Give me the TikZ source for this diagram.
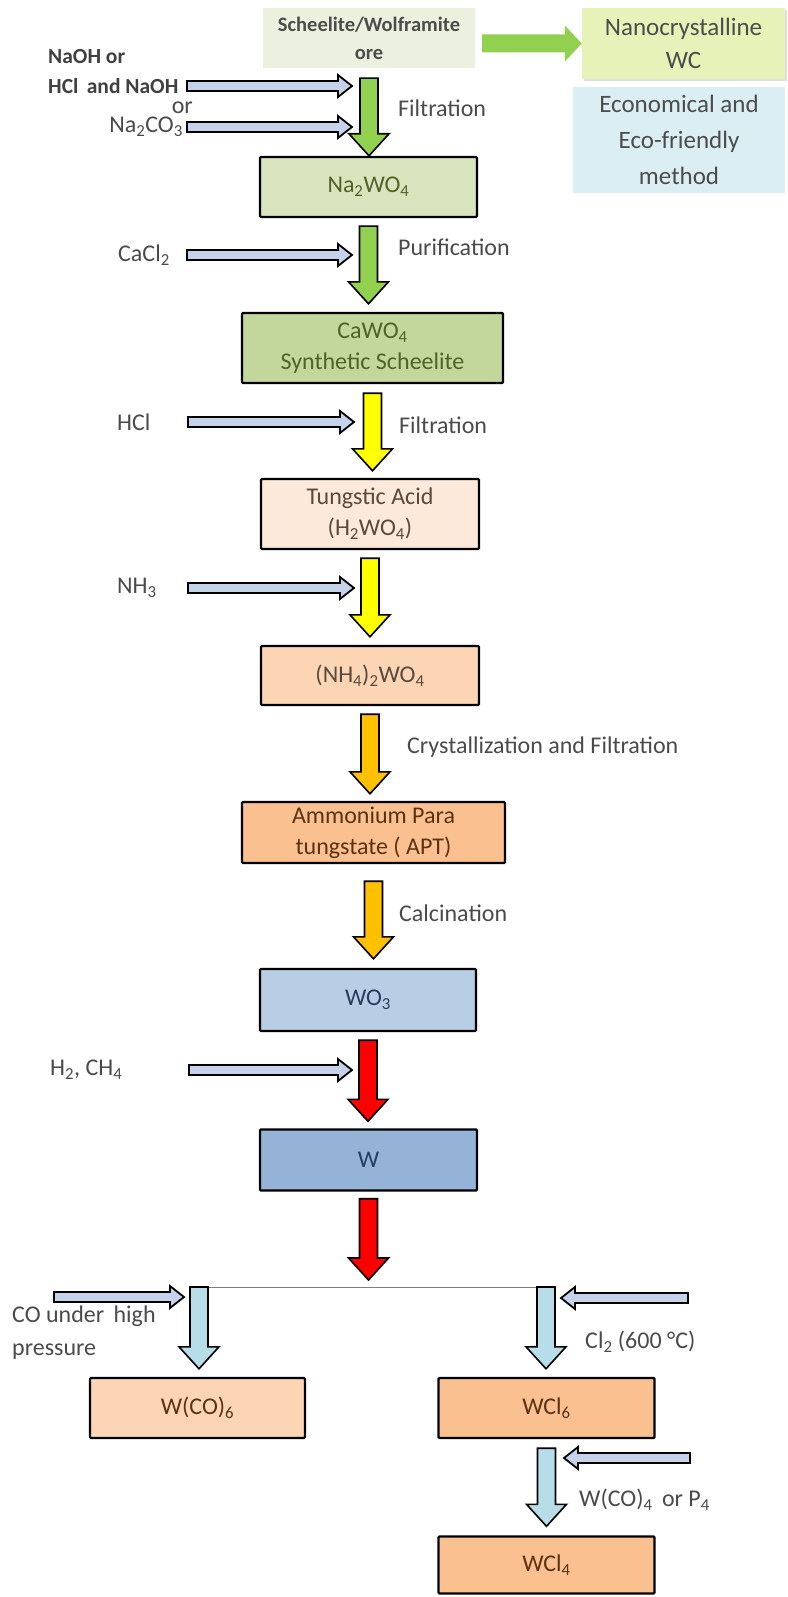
\documentclass[tikz,border=0pt]{standalone}
\usepackage{fontspec}
\setmainfont{Carlito}
\usepackage{xcolor}
\usepackage{tikz}
\usetikzlibrary{positioning,calc,shadows}

\definecolor{oreC}{HTML}{EBF1DE}
\definecolor{nanoC}{HTML}{E6F2B8}
\definecolor{ecoC}{HTML}{DBEEF3}
\definecolor{naC}{HTML}{D7E4BD}
\definecolor{caC}{HTML}{C3D69B}
\definecolor{taC}{HTML}{FDE9D9}
\definecolor{amC}{HTML}{FCD5B5}
\definecolor{aptC}{HTML}{FAC090}
\definecolor{wthreeC}{HTML}{B9CDE5}
\definecolor{wC}{HTML}{95B3D7}
\definecolor{grnA}{HTML}{92D050}
\definecolor{yelA}{HTML}{FFFF00}
\definecolor{ornA}{HTML}{FFC000}
\definecolor{redA}{HTML}{FF0000}
\definecolor{bluA}{HTML}{B7DDE8}
\definecolor{feedC}{HTML}{C6D2EA}
\definecolor{lblT}{HTML}{4A4A4A}
\definecolor{grnT}{HTML}{4F6228}
\definecolor{brnT}{HTML}{594A3C}
\definecolor{aptT}{HTML}{5B3312}
\definecolor{bluT}{HTML}{243F60}

\tikzset{
  box/.style={draw=black, line width=2.4pt, rounded corners=1pt, align=center,
    minimum height=60pt, inner sep=2pt, font=\fontsize{24}{31}\selectfont},
  topbox/.style={draw=none, align=center, inner sep=2pt},
  lbl/.style={inner sep=0pt, text=lblT, align=left, font=\fontsize{24}{33}\selectfont},
  % block arrow pointing down
  blk/.style={fill=#1, draw=black, line width=1.6pt, line join=miter,
    to path={let \p1=(\tikztostart), \p2=(\tikztotarget) in
      (\x1-9pt,\y1) -- (\x1+9pt,\y1) -- (\x1+9pt,\y2+22pt) -- (\x1+20pt,\y2+22pt)
      -- (\x1,\y2) -- (\x1-20pt,\y2+22pt) -- (\x1-9pt,\y2+22pt) -- cycle}},
  % block arrow pointing right, no outline
  hblk/.style={fill=#1,
    to path={let \p1=(\tikztostart), \p2=(\tikztotarget) in
      (\x1,\y2+9pt) -- (\x2-17pt,\y2+9pt) -- (\x2-17pt,\y2+18pt) -- (\x2,\y2)
      -- (\x2-17pt,\y2-18pt) -- (\x2-17pt,\y2-9pt) -- (\x1,\y2-9pt) -- cycle}},
  % hollow feed arrow
  feed/.style={fill=feedC, draw=black, line width=1.8pt, line join=miter,
    to path={let \p1=(\tikztostart), \p2=(\tikztotarget), \p3=($(\p2)!14pt!(\p1)$) in
      (\x1,\y1+5pt) -- (\x3,\y1+5pt) -- (\x3,\y1+11pt) -- (\x2,\y1)
      -- (\x3,\y1-11pt) -- (\x3,\y1-5pt) -- (\x1,\y1-5pt) -- cycle}}
}

\begin{document}
\begin{tikzpicture}[x=1pt,y=-1pt]
    \useasboundingbox (0,0) rectangle (787,1597);

    % Top boxes
    \node[topbox, fill=oreC, text=black!70, font=\bfseries\fontsize{20.5}{28}\selectfont,
      minimum width=212pt, minimum height=60pt] (ore) at (369,38) {Scheelite/Wolframite\\ore};
    \node[topbox, fill=nanoC, text=black!70, font=\fontsize{25}{33}\selectfont,
      minimum width=203pt, minimum height=71pt,
      drop shadow={shadow xshift=2pt, shadow yshift=-2pt, opacity=0.25}] (nano) at (683.5,43.5) {Nanocrystalline\\WC};
    \node[topbox, fill=ecoC, text=black!70, font=\fontsize{25}{36}\selectfont,
      minimum width=212pt, minimum height=106pt] (eco) at (679,140) {Economical and\\Eco-friendly\\method};

    % Main column
    \node[box, fill=naC, text=grnT, minimum width=217pt] (na) at (368.5,187) {Na\textsubscript{2}WO\textsubscript{4}};
    \node[box, fill=caC, text=grnT, minimum width=261pt, minimum height=70pt] (ca) at (372.5,348) {CaWO\textsubscript{4}\\Synthetic Scheelite};
    \node[box, fill=taC, text=brnT, minimum width=218pt, minimum height=70pt] (ta) at (370,514) {Tungstic Acid\\(H\textsubscript{2}WO\textsubscript{4})};
    \node[box, fill=amC, text=brnT, minimum width=218pt, minimum height=59pt] (am) at (370,675.5) {(NH\textsubscript{4})\textsubscript{2}WO\textsubscript{4}};
    \node[box, fill=aptC, text=aptT, minimum width=263pt, minimum height=61pt] (apt) at (373.5,832.5) {Ammonium Para\\tungstate ( APT)};
    \node[box, fill=wthreeC, text=bluT, minimum width=216pt, minimum height=62pt] (wo) at (368,1000) {WO\textsubscript{3}};
    \node[box, fill=wC, text=bluT, minimum width=217pt, minimum height=61pt] (w) at (368.5,1160) {W};

    % Branch boxes
    \node[box, fill=amC, text=aptT, minimum width=215pt] (wco) at (197.5,1408) {W(CO)\textsubscript{6}};
    \node[box, fill=aptC, text=aptT, minimum width=216pt] (wcl) at (546.5,1408) {WCl\textsubscript{6}};
    \node[box, fill=aptC, text=aptT, minimum width=216pt, minimum height=57pt] (wclf) at (546.5,1565) {WCl\textsubscript{4}};

    % Step labels
    \node[lbl, anchor=west] (filt) at (398,108) {Filtration};
    \node[lbl, anchor=west] (puri) at (398,247) {Purification};
    \node[lbl, anchor=west] (filtb) at (399,425) {Filtration};
    \node[lbl, anchor=west] (cryst) at (407,747) {Crystallization and Filtration};
    \node[lbl, anchor=west] (calc) at (399,913) {Calcination};
    \node[lbl, anchor=west] (chl) at (585,1342) {Cl\textsubscript{2} (600 °C)};
    \node[lbl, anchor=west] (wcop) at (579,1500) {W(CO)\textsubscript{4}\, or P\textsubscript{4}};
    \node[lbl, anchor=north west] (co) at (12,1306) {CO under\, high\\pressure};

    % Reagents
    \node[lbl, anchor=west, text=black!75, font=\bfseries\fontsize{21.5}{28}\selectfont] (naoh) at (48,57) {NaOH or};
    \node[lbl, anchor=west, text=black!75, font=\bfseries\fontsize{21.5}{28}\selectfont] (hcl) at (48,86) {HCl\, and NaOH};
    \node[lbl, anchor=east] (or) at (193,108) {or};
    \node[lbl, anchor=east] (naco) at (183,127) {Na\textsubscript{2}CO\textsubscript{3}};
    \node[lbl, anchor=west] (cacl) at (118,255) {CaCl\textsubscript{2}};
    \node[lbl, anchor=west] (hclb) at (117,422) {HCl};
    \node[lbl, anchor=west] (nh) at (117,588) {NH\textsubscript{3}};
    \node[lbl, anchor=west] (hyd) at (50,1070) {H\textsubscript{2}, CH\textsubscript{4}};

    % Junctions
    \coordinate (ja) at (352,88);
    \coordinate (jb) at (352,127);
    \coordinate (jc) at (352,255);
    \coordinate (jd) at (354,422);
    \coordinate (je) at (354,588);
    \coordinate (jf) at (352,1070);
    \coordinate (split) at (368.5,1280);
    \coordinate (bl) at (199,1287);
    \coordinate (br) at (546,1287);
    \coordinate (coa) at (54,1297);
    \coordinate (cob) at (184,1297);
    \coordinate (cla) at (688,1298);
    \coordinate (clb) at (561,1298);
    \coordinate (pa) at (690,1458);
    \coordinate (pb) at (564,1458);

    % Process arrows
    \path[hblk=grnA] ([xshift=7pt]ore.east) to (nano.west);
    \draw[blk=grnA] ([yshift=-10pt]ore.south) to (na.north);
    \draw[blk=grnA] ([yshift=-8pt]na.south) to ([yshift=8pt]ca.north);
    \draw[blk=yelA] ([yshift=-9pt]ca.south) to ([yshift=7pt]ta.north);
    \draw[blk=yelA] ([yshift=-8pt]ta.south) to ([yshift=8pt]am.north);
    \draw[blk=ornA] ([yshift=-8pt]am.south) to ([yshift=7pt]apt.north);
    \draw[blk=ornA] ([yshift=-17pt]apt.south) to ([yshift=9pt]wo.north);
    \draw[blk=redA] ([yshift=-8pt]wo.south) to ([yshift=7pt]w.north);
    \draw[blk=redA] ([yshift=-7pt]w.south) to (split);

    % Branches
    \draw[gray, line width=1pt] (bl) -- (br);
    \draw[blk=bluA] (bl) to ([yshift=8pt]wco.north);
    \draw[blk=bluA] (br) to ([yshift=8pt]wcl.north);
    \draw[blk=bluA] ([yshift=-9pt]wcl.south) to ([yshift=9pt]wclf.north);

    % Reagent arrows
    \draw[feed] ([xshift=139pt]hcl.west) to (ja);
    \draw[feed] ([xshift=4pt]naco.east) to (jb);
    \draw[feed] ([xshift=69pt]cacl.west) to (jc);
    \draw[feed] ([xshift=71pt]hclb.west) to (jd);
    \draw[feed] ([xshift=71pt]nh.west) to (je);
    \draw[feed] ([xshift=139pt]hyd.west) to (jf);
    \draw[feed] (coa) to (cob);
    \draw[feed] (cla) to (clb);
    \draw[feed] (pa) to (pb);
\end{tikzpicture}
\end{document}
